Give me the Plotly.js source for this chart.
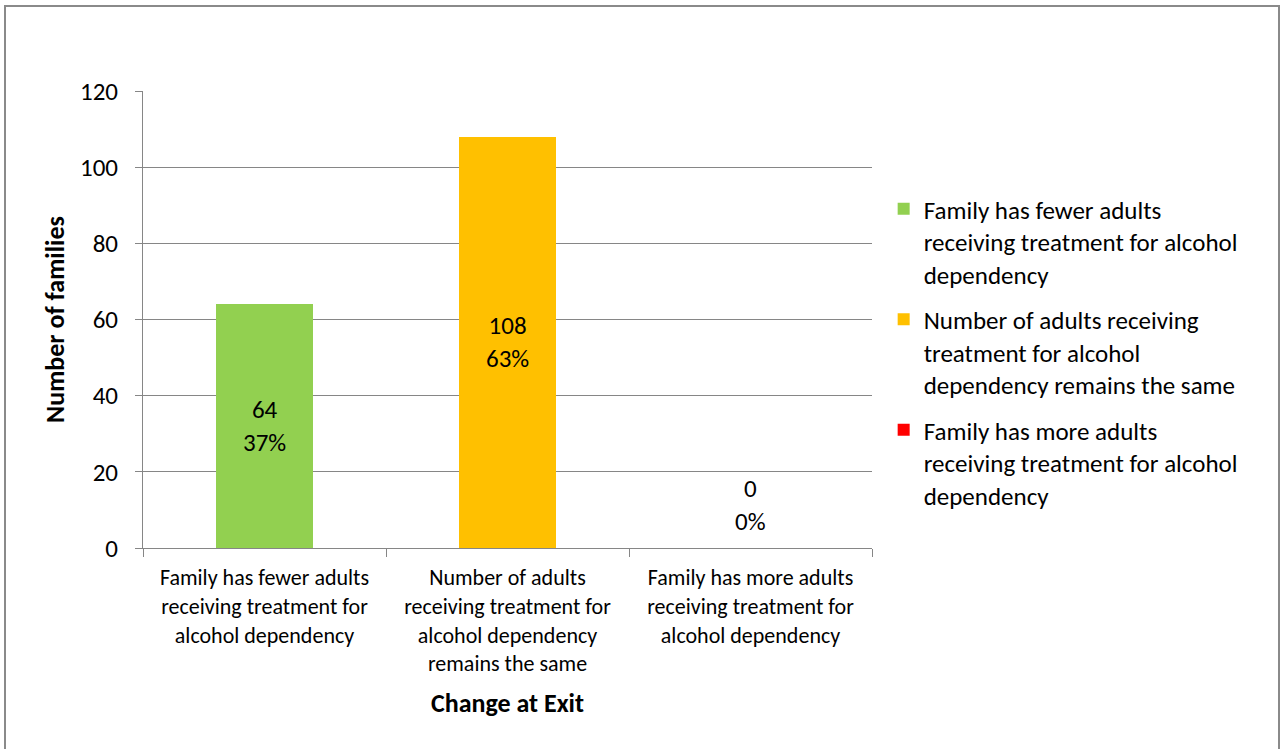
<!DOCTYPE html>
<html><head><meta charset="utf-8">
<script src="https://cdn.plot.ly/plotly-3.0.1.min.js"></script>
<style>
body{margin:0;padding:0;background:#fff;overflow:hidden;}
#chart{width:1280px;height:749px;position:absolute;left:0;top:0;}
#frame{position:absolute;left:4px;top:5px;width:1272px;height:760px;border:2px solid #8a8a8a;pointer-events:none;}
</style></head>
<body>
<div id="chart"></div>
<div id="frame"></div>
<script>
const categories = [
  "Family has fewer adults<br>receiving treatment for<br>alcohol dependency",
  "Number of adults<br>receiving treatment for<br>alcohol dependency<br>remains the same",
  "Family has more adults<br>receiving treatment for<br>alcohol dependency"
];
const seriesNames = [
  "Family has fewer adults<br>receiving treatment for alcohol<br>dependency",
  "Number of adults receiving<br>treatment for alcohol<br>dependency remains the same",
  "Family has more adults<br>receiving treatment for alcohol<br>dependency"
];
const values = [64, 108, 0];
const colors = ["#92d050", "#ffc000", "#ff0000"];
const yTicks = [0, 20, 40, 60, 80, 100, 120];

const FONT = "Carlito, 'Liberation Sans', Arial, sans-serif";
const total = values.reduce((a, b) => a + b, 0);

const traces = values.map((v, i) => ({
  type: "bar",
  x: [categories[i]],
  y: [v],
  name: seriesNames[i],
  legendgroup: "g" + i,
  marker: {color: colors[i]},
  width: 0.4,
  hoverinfo: "x+y"
}));

const annotations = values.map((v, i) => ({
  x: categories[i],
  y: Math.max(v / 2, 11.3),
  xref: "x", yref: "y",
  text: v + "<br>" + Math.round(v / total * 100) + "%",
  showarrow: false,
  font: {family: FONT, size: 25, color: "#000"},
  align: "center"
}));

const layout = {
  width: 1280, height: 749,
  margin: {l: 143, r: 408, t: 91, b: 201},
  paper_bgcolor: "#fff", plot_bgcolor: "#fff",
  barmode: "stack",
  showlegend: true,
  font: {family: FONT, color: "#000"},
  xaxis: {
    categoryorder: "array", categoryarray: categories,
    showline: true, linecolor: "#868686", linewidth: 1,
    ticks: "outside", ticklen: 8, tickcolor: "#868686",
    tickson: "boundaries",
    ticklabelstandoff: 10,
    tickfont: {family: FONT, size: 22, color: "#000"},
    title: {text: "<b>Change at Exit</b>", font: {family: FONT, size: 26, color: "#000"}, standoff: 17},
    showgrid: false, zeroline: false
  },
  yaxis: {
    range: [0, 120], tickvals: yTicks,
    showline: true, linecolor: "#868686", linewidth: 1,
    ticks: "outside", ticklen: 7, tickcolor: "#868686",
    ticklabelstandoff: 12,
    tickfont: {family: FONT, size: 25, color: "#000"},
    showgrid: true, gridcolor: "#868686", gridwidth: 1,
    zeroline: false,
    title: {text: "<b>Number of families</b>", font: {family: FONT, size: 26, color: "#000"}, standoff: 7}
  },
  legend: {
    x: 1.016, xanchor: "left", y: 0.792, yanchor: "top",
    font: {family: FONT, size: 25, color: "#000"},
    tracegroupgap: 10, traceorder: "grouped",
    valign: "top",
    itemwidth: 30
  },
  annotations: annotations
};

Plotly.newPlot("chart", traces, layout, {displayModeBar: false, staticPlot: true});
</script>
</body></html>
